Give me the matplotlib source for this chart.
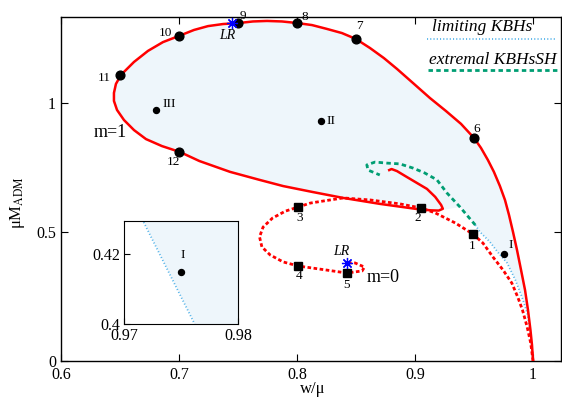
import matplotlib
matplotlib.use("Agg")
from matplotlib import pyplot as plt
from matplotlib.lines import Line2D

plt.rcParams['font.family'] = ['Liberation Serif', 'DejaVu Serif']
plt.rcParams['mathtext.fontset'] = 'stix'

# m=1 family (solid red), from (1,0) around the loop into the inner hook
m1_w = [1.0, 0.9991, 0.9978, 0.9957, 0.9932, 0.9898, 0.9864, 0.983, 0.9796, 0.9762,
        0.9719, 0.9668, 0.9617, 0.9558, 0.950, 0.9389, 0.9261, 0.9126, 0.899, 0.8846,
        0.8735, 0.8617, 0.8498, 0.8379, 0.8252, 0.8125, 0.7997, 0.787, 0.7743, 0.7624,
        0.7506, 0.737, 0.7243, 0.7124, 0.6997, 0.6861, 0.6734, 0.6615, 0.6505, 0.6462,
        0.6445, 0.6445, 0.6471, 0.653, 0.6615, 0.6717, 0.6852, 0.7005, 0.717, 0.743,
        0.768, 0.788, 0.813, 0.839, 0.870, 0.9015, 0.913, 0.920, 0.9235, 0.922,
        0.917, 0.910, 0.9015, 0.893, 0.8846, 0.880, 0.878]
m1_M = [0.0, 0.062, 0.120, 0.198, 0.275, 0.353, 0.430, 0.500, 0.566, 0.624,
        0.678, 0.733, 0.779, 0.826, 0.864, 0.919, 0.969, 1.019, 1.074, 1.132,
        1.174, 1.213, 1.248, 1.271, 1.287, 1.302, 1.310, 1.316, 1.318, 1.316,
        1.310, 1.306, 1.298, 1.283, 1.260, 1.236, 1.202, 1.159, 1.109, 1.074,
        1.039, 1.008, 0.973, 0.934, 0.895, 0.860, 0.833, 0.810, 0.775, 0.733,
        0.702, 0.678, 0.655, 0.632, 0.609, 0.589, 0.584, 0.583, 0.590, 0.605,
        0.636, 0.667, 0.690, 0.713, 0.736, 0.744, 0.740]

# m=0 family (dotted red)
m0_w = [1.0, 0.998, 0.995, 0.991, 0.987, 0.982, 0.9745, 0.966, 0.9575, 0.949,
        0.934, 0.917, 0.905, 0.887, 0.862, 0.839, 0.822, 0.811, 0.801, 0.790,
        0.779, 0.771, 0.768, 0.770, 0.777, 0.788, 0.801, 0.824, 0.842, 0.855,
        0.857, 0.849, 0.841]
m0_M = [0.0, 0.070, 0.132, 0.198, 0.248, 0.302, 0.353, 0.403, 0.457, 0.492,
        0.535, 0.574, 0.593, 0.609, 0.624, 0.632, 0.620, 0.612, 0.597, 0.581,
        0.554, 0.519, 0.481, 0.442, 0.411, 0.384, 0.368, 0.353, 0.341, 0.349,
        0.364, 0.380, 0.380]

# limiting KBHs (dotted blue), from top down to (1,0)
lim_w = [0.951, 0.955, 0.9635, 0.970, 0.978, 0.985, 0.9906, 0.995, 0.9975, 0.999, 1.0]
lim_M = [0.527, 0.500, 0.461, 0.422, 0.380, 0.314, 0.248, 0.186, 0.120, 0.054, 0.0]

# extremal KBHsSH (dashed green)
ext_w = [0.951, 0.938, 0.927, 0.9185, 0.908, 0.898, 0.887, 0.876, 0.866, 0.859, 0.860, 0.870]
ext_M = [0.527, 0.597, 0.651, 0.702, 0.729, 0.748, 0.764, 0.767, 0.771, 0.760, 0.740, 0.721]

# labelled solutions
m1_pts_w = [0.950, 0.850, 0.800, 0.750, 0.700, 0.650, 0.700]
m1_pts_M = [0.864, 1.248, 1.310, 1.310, 1.260, 1.109, 0.810]
m1_pts_lab = ['6', '7', '8', '9', '10', '11', '12']
m0_pts_w = [0.949, 0.905, 0.801, 0.801, 0.842]
m0_pts_M = [0.492, 0.593, 0.597, 0.368, 0.341]
m0_pts_lab = ['1', '2', '3', '4', '5']
roman_w = [0.975, 0.820, 0.680]
roman_M = [0.415, 0.930, 0.973]
roman_lab = ['I', 'II', 'III']
lr_w = [0.745, 0.842]
lr_M = [1.310, 0.380]

# inset data
ins_lim_w = [0.9716, 0.9762]
ins_lim_M = [0.43, 0.40]
ins_I_w = 0.975
ins_I_M = 0.4149

RED = '#ff0000'
GREEN = '#009e73'
BLUE = '#56b4e9'
FILL = '#eef6fb'

fig = plt.figure(figsize=(5.62, 3.97), dpi=100)
ax = fig.add_axes([0.1094, 0.0907, 0.8888, 0.8665])

# shaded domain: outer m=1 boundary, then extremal / limiting lines
k = m1_w.index(0.920)
poly_w = m1_w[:k + 1] + ext_w[1::-1] + lim_w[1:]
poly_M = m1_M[:k + 1] + ext_M[1::-1] + lim_M[1:]
ax.fill(poly_w, poly_M, color=FILL, lw=0, zorder=0)

ax.plot(lim_w, lim_M, color=BLUE, lw=1.3, ls=(0, (0.6, 1.2)), zorder=2)
ax.plot(ext_w, ext_M, color=GREEN, lw=2.0, ls=(0, (1.6, 1.2)), zorder=2)
ax.plot(m0_w, m0_M, color=RED, lw=2.0, ls=(0, (1.3, 0.9)), zorder=3)
ax.plot(m1_w, m1_M, color=RED, lw=1.8, zorder=3, solid_joinstyle='round')

ax.plot(m1_pts_w, m1_pts_M, 'o', color='black', ms=6.3, zorder=4)
ax.plot(m0_pts_w, m0_pts_M, 's', color='black', ms=5.8, zorder=4)
ax.plot(roman_w, roman_M, 'o', color='black', ms=4.3, zorder=4)
ax.plot(lr_w, lr_M, ls='none', marker=(8, 2, 0), color='blue', ms=8,
        mew=0.9, zorder=5)

# label offsets in pixels (right, up)
m1_off = [(3, 9), (3, 13), (8, 6), (5, 7), (-14, 3), (-16, -3), (-6, -10)]
m0_off = [(-1, -12), (-3, -10), (1, -11), (1, -10), (0, -12)]
roman_off = [(7, 9), (10, 0), (13, 6)]
lr_off = [(-5, -12), (-5, 11)]

for w, M, s, o in zip(m1_pts_w, m1_pts_M, m1_pts_lab, m1_off):
    ax.annotate(s, (w, M), xytext=o, textcoords='offset pixels',
                ha='center', va='center', fontsize=9.5, zorder=6)
for w, M, s, o in zip(m0_pts_w, m0_pts_M, m0_pts_lab, m0_off):
    ax.annotate(s, (w, M), xytext=o, textcoords='offset pixels',
                ha='center', va='center', fontsize=9.5, zorder=6)
for w, M, s, o in zip(roman_w, roman_M, roman_lab, roman_off):
    ax.annotate(s, (w, M), xytext=o, textcoords='offset pixels',
                ha='center', va='center', fontsize=9.5, zorder=6)
for w, M, o in zip(lr_w, lr_M, lr_off):
    ax.annotate('LR', (w, M), xytext=o, textcoords='offset pixels',
                ha='center', va='center', fontsize=10, style='italic', zorder=6)

ax.text(0.641, 0.884, 'm=1', ha='center', va='center', fontsize=13)
ax.text(0.873, 0.322, 'm=0', ha='center', va='center', fontsize=13)

# legend drawn by hand: text above a line sample
ax.text(0.942, 0.971, 'limiting KBHs', transform=ax.transAxes, ha='right',
        va='center', fontsize=12.5, style='italic')
ax.add_line(Line2D([0.732, 0.992], [0.936, 0.936], transform=ax.transAxes,
                   color=BLUE, lw=1.3, ls=(0, (0.6, 1.2))))
ax.text(0.864, 0.875, 'extremal KBHsSH', transform=ax.transAxes, ha='center',
        va='center', fontsize=12.5, style='italic')
ax.add_line(Line2D([0.734, 0.994], [0.846, 0.846], transform=ax.transAxes,
                   color=GREEN, lw=2.0, ls=(0, (1.6, 1.2))))

ax.set_xlim(0.6, 1.0237)
ax.set_ylim(0, 1.3333)
ax.set_xticks([0.6, 0.7, 0.8, 0.9, 1.0])
ax.set_xticklabels(['0.6', '0.7', '0.8', '0.9', '1'])
ax.set_yticks([0, 0.5, 1])
ax.set_yticklabels(['0', '0.5', '1'])
ax.tick_params(direction='in', top=True, right=True, length=5, width=0.8,
               labelsize=11.5, pad=4)
for sp in ax.spines.values():
    sp.set_linewidth(1.0)
ax.set_xlabel('w/μ', fontsize=12)
ax.set_ylabel('μM$_{\\mathrm{ADM}}$', fontsize=12)
ax.xaxis.set_label_coords(0.503, -0.058)
ax.yaxis.set_label_coords(-0.069, 0.46)

# inset
axi = fig.add_axes([0.2206, 0.1839, 0.2028, 0.2594])
axi.fill_betweenx(ins_lim_M, ins_lim_w, 1.0, color=FILL, lw=0, zorder=0)
axi.plot(ins_lim_w, ins_lim_M, color=BLUE, lw=1.3, ls=(0, (0.6, 1.2)))
axi.plot([ins_I_w], [ins_I_M], 'o', color='black', ms=4.3)
axi.annotate('I', (ins_I_w, ins_I_M), xytext=(2, 17), textcoords='offset pixels',
             ha='center', va='center', fontsize=9.5)
axi.set_xlim(0.97, 0.98)
axi.set_ylim(0.4, 0.4295)
axi.set_xticks([0.97, 0.98])
axi.set_yticks([0.4, 0.42])
axi.set_yticklabels(['0.4', '0.42'])
axi.tick_params(direction='in', length=4, labelsize=11.5, pad=3)

fig.savefig('out.png', dpi=100)
